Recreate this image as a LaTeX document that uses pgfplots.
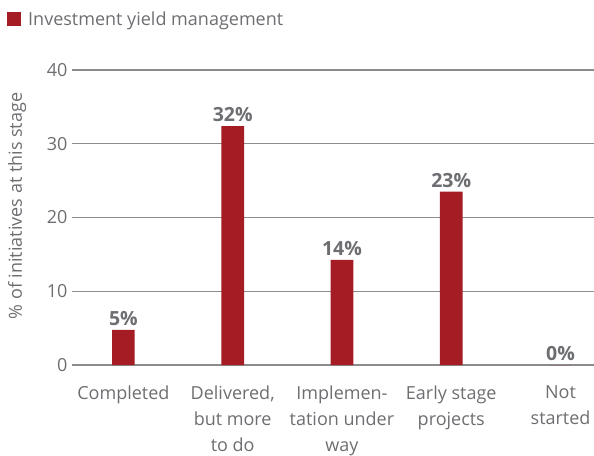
\documentclass[border=0pt]{standalone}
\usepackage{fontspec}
\setmainfont{Open Sans}
\usepackage{pgfplots}
\pgfplotsset{compat=1.18}
\definecolor{barred}{HTML}{A61C24}
\definecolor{txtgray}{HTML}{6D6E71}
\definecolor{gridgray}{HTML}{8C8C8C}
\newcommand{\cfont}{\fontsize{18pt}{26pt}\selectfont}
\begin{document}
\begin{tikzpicture}[x=1pt,y=1pt]
\begin{axis}[
  at={(0,0)}, anchor=south west,
  scale only axis, width=522pt, height=295pt,
  xmin=-0.470, xmax=4.306, ymin=0, ymax=40,
  ytick={0,10,20,30,40},
  xtick={0,1,2,3,4},
  xticklabels={Completed,{Delivered,\\but more\\to do},{Implemen-\\tation under\\way},{Early stage\\projects},{Not\\started}},
  xticklabel style={align=center, font=\cfont, text=txtgray, yshift=-13pt},
  yticklabel style={font=\cfont, text=txtgray, xshift=-1pt},
  /pgf/number format/assume math mode=true,
  ymajorgrids, grid style={gridgray, line width=1.2pt},
  axis line style={draw=none},
  major tick style={draw=none},
  ylabel={\% of initiatives at this stage},
  every axis y label/.style={at={(rel axis cs:-0.105,0.539)}, rotate=90, anchor=center, font=\cfont, text=txtgray},
  ybar, bar width=0.208,
  nodes near coords,
  point meta=explicit symbolic,
  nodes near coords style={font=\bfseries\fontsize{19.5pt}{24pt}\selectfont, text=txtgray, inner sep=1pt, anchor=south, yshift=3pt},
  legend style={at={(rel axis cs:-0.1245,1.205)}, anchor=north west, draw=none, fill=none, inner sep=0pt, font=\cfont, text=txtgray,
    /tikz/every even column/.append style={column sep=0pt}},
  legend image code/.code={\fill[barred] (0pt,-7pt) rectangle (14pt,7pt);},
]
\addplot[fill=barred, draw=none] coordinates {
  (0,4.75) [5\%]
  (1,32.4) [32\%]
  (2,14.25) [14\%]
  (3,23.5) [23\%]
  (4,0) [0\%]
};
\addlegendentry[text depth=0pt]{\hspace{5pt}Investment yield management}
\end{axis}
\pgfresetboundingbox
\path[use as bounding box] (-72,-90) rectangle (522,365);
\end{tikzpicture}
\end{document}
